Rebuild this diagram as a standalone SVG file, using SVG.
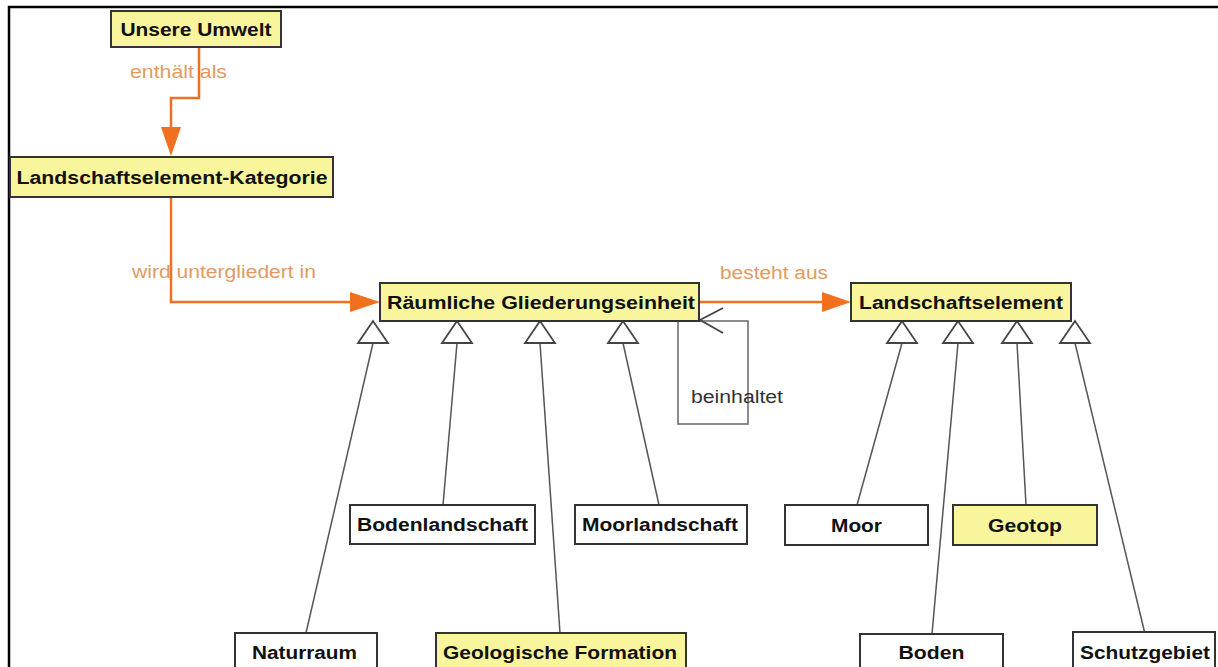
<svg xmlns="http://www.w3.org/2000/svg" width="1218" height="667" viewBox="0 0 1218 667">
<style>
.box{stroke:#333;stroke-width:2}
.y{fill:#f9f59c}
.w{fill:#ffffff}
.t{font-family:"Liberation Sans",Arial,sans-serif;font-weight:bold;font-size:18px;fill:#111;text-anchor:middle}
.lbl{font-family:"Liberation Sans",Arial,sans-serif;font-size:18px;fill:#e39a62}
.lb2{font-family:"Liberation Sans",Arial,sans-serif;font-size:18px;fill:#333}
.oc{fill:none;stroke:#f07020;stroke-width:2.5}
.gen{fill:none;stroke:#555;stroke-width:1.5}
.tri{fill:#fff;stroke:#444;stroke-width:1.8}
</style>
<rect width="1218" height="667" fill="#fff"/>
<path d="M9,667 V7 H1218" fill="none" stroke="#000" stroke-width="2.5"/>

<g id="connectors">
<text class="lbl" x="130" y="78" textLength="97" lengthAdjust="spacingAndGlyphs">enthält als</text>
<path class="oc" d="M199,47 V98 H171 V128"/>
<path d="M161,127 L181,127 L171,156 z" fill="#f07020"/>
<text class="lbl" x="132" y="278" textLength="184" lengthAdjust="spacingAndGlyphs">wird untergliedert in</text>
<path class="oc" d="M171,197 V302 H352"/>
<path d="M350,292 L350,312 L380,302 z" fill="#f07020"/>
<text class="lbl" x="720" y="279" textLength="108" lengthAdjust="spacingAndGlyphs">besteht aus</text>
<path class="oc" d="M699,302 H824"/>
<path d="M822,292 L822,312 L851,302 z" fill="#f07020"/>
<path d="M678,321 V424 H748 V321 H700" fill="none" stroke="#666" stroke-width="1.5"/>
<path d="M723,308 L700,320 L723,333" fill="none" stroke="#444" stroke-width="1.8"/>
<text class="lb2" x="691" y="403" textLength="92" lengthAdjust="spacingAndGlyphs">beinhaltet</text>
<path class="gen" d="M373,343 L306,633"/>
<path class="gen" d="M457,343 L443,505"/>
<path class="gen" d="M540,343 L560,633"/>
<path class="gen" d="M623,343 L659,505"/>
<path class="gen" d="M902,343 L857,505"/>
<path class="gen" d="M958,343 L932,634"/>
<path class="gen" d="M1017,343 L1026,505"/>
<path class="gen" d="M1075,343 L1145,634"/>
<path class="tri" d="M373,321 L358,343 L388,343 z"/>
<path class="tri" d="M457,321 L442,343 L472,343 z"/>
<path class="tri" d="M540,321 L525,343 L555,343 z"/>
<path class="tri" d="M623,321 L608,343 L638,343 z"/>
<path class="tri" d="M902,321 L887,343 L917,343 z"/>
<path class="tri" d="M958,321 L943,343 L973,343 z"/>
<path class="tri" d="M1017,321 L1002,343 L1032,343 z"/>
<path class="tri" d="M1075,321 L1060,343 L1090,343 z"/>
</g>

<g id="unsere-umwelt">
<rect class="box y" x="111" y="11" width="170" height="36"/>
<text class="t" x="196" y="35.5" textLength="151" lengthAdjust="spacingAndGlyphs">Unsere Umwelt</text>
</g>
<g id="landschaftselement-kategorie">
<rect class="box y" x="10" y="157" width="323" height="40"/>
<text class="t" x="172" y="183.5" textLength="311" lengthAdjust="spacingAndGlyphs">Landschaftselement-Kategorie</text>
</g>
<g id="raeumliche-gliederungseinheit">
<rect class="box y" x="380" y="283" width="319" height="38"/>
<text class="t" x="541" y="308.5" textLength="308" lengthAdjust="spacingAndGlyphs">Räumliche Gliederungseinheit</text>
</g>
<g id="landschaftselement">
<rect class="box y" x="851" y="283" width="220" height="38"/>
<text class="t" x="961" y="308.5" textLength="204" lengthAdjust="spacingAndGlyphs">Landschaftselement</text>
</g>
<g id="bodenlandschaft">
<rect class="box w" x="350" y="505" width="185" height="39"/>
<text class="t" x="442.5" y="531" textLength="171" lengthAdjust="spacingAndGlyphs">Bodenlandschaft</text>
</g>
<g id="moorlandschaft">
<rect class="box w" x="575" y="505" width="172" height="39"/>
<text class="t" x="660" y="531" textLength="156" lengthAdjust="spacingAndGlyphs">Moorlandschaft</text>
</g>
<g id="moor">
<rect class="box w" x="785" y="505" width="143" height="40"/>
<text class="t" x="856.5" y="531.5" textLength="51" lengthAdjust="spacingAndGlyphs">Moor</text>
</g>
<g id="geotop">
<rect class="box y" x="953" y="505" width="144" height="40"/>
<text class="t" x="1025" y="531.5" textLength="74" lengthAdjust="spacingAndGlyphs">Geotop</text>
</g>
<g id="naturraum">
<rect class="box w" x="235" y="633" width="142" height="42"/>
<text class="t" x="304.5" y="659" textLength="105" lengthAdjust="spacingAndGlyphs">Naturraum</text>
</g>
<g id="geologische-formation">
<rect class="box y" x="436" y="633" width="250" height="42"/>
<text class="t" x="560" y="659" textLength="234" lengthAdjust="spacingAndGlyphs">Geologische Formation</text>
</g>
<g id="boden">
<rect class="box w" x="860" y="634" width="143" height="42"/>
<text class="t" x="931.5" y="659" textLength="66" lengthAdjust="spacingAndGlyphs">Boden</text>
</g>
<g id="schutzgebiet">
<rect class="box w" x="1073" y="632" width="142" height="42"/>
<text class="t" x="1145" y="659" textLength="130" lengthAdjust="spacingAndGlyphs">Schutzgebiet</text>
</g>
</svg>
